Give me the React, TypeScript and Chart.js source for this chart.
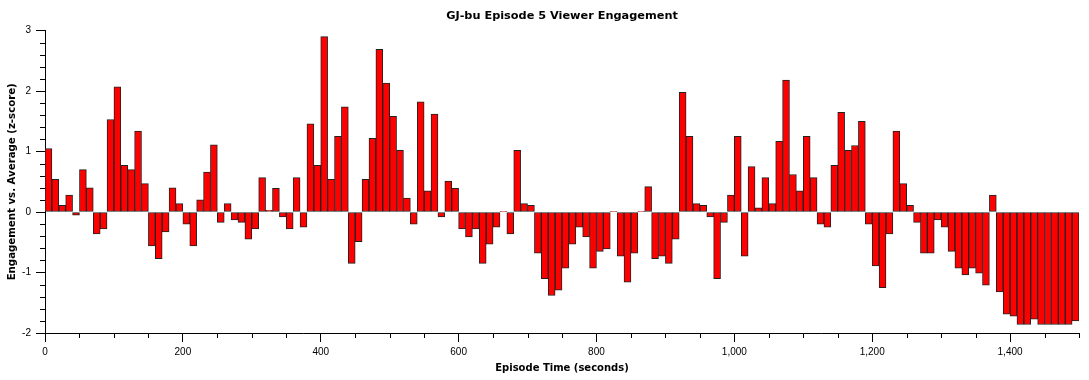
import React, { useEffect, useRef } from "react";
import { Chart, registerables } from "chart.js";

Chart.register(...registerables);

const TITLE = "GJ-bu Episode 5 Viewer Engagement";
const X_TITLE = "Episode Time (seconds)";
const Y_TITLE = "Engagement vs. Average (z-score)";

// bin start times (seconds), 10 s bins
const binStarts: number[] = Array.from({ length: 150 }, (_, i) => i * 10);

const engagement: number[] = [
  1.05, 0.54, 0.11, 0.28, -0.05, 0.7, 0.4, -0.36, -0.28, 1.53,
  2.07, 0.77, 0.7, 1.34, 0.47, -0.56, -0.77, -0.33, 0.4, 0.14,
  -0.2, -0.56, 0.2, 0.66, 1.11, -0.17, 0.14, -0.13, -0.17, -0.45,
  -0.28, 0.57, 0.03, 0.39, -0.08, -0.28, 0.57, -0.25, 1.46, 0.77,
  2.9, 0.54, 1.25, 1.74, -0.85, -0.49, 0.54, 1.22, 2.69, 2.13,
  1.58, 1.02, 0.23, -0.2, 1.82, 0.35, 1.62, -0.08, 0.51, 0.39,
  -0.28, -0.41, -0.28, -0.85, -0.53, -0.25, 0.01, -0.36, 1.02, 0.14,
  0.11, -0.68, -1.1, -1.38, -1.29, -0.93, -0.53, -0.25, -0.41, -0.93,
  -0.65, -0.61, 0.01, -0.73, -1.16, -0.68, 0.01, 0.42, -0.77, -0.73,
  -0.85, -0.45, 1.98, 1.25, 0.14, 0.11, -0.08, -1.1, -0.17, 0.28,
  1.25, -0.73, 0.75, 0.07, 0.57, 0.14, 1.17, 2.18, 0.62, 0.35,
  1.25, 0.57, -0.2, -0.25, 0.77, 1.65, 1.02, 1.1, 1.5, -0.2,
  -0.89, -1.25, -0.36, 1.34, 0.47, 0.11, -0.17, -0.68, -0.68, -0.13,
  -0.25, -0.65, -0.93, -1.04, -0.93, -1.01, -1.21, 0.28, -1.32, -1.69,
  -1.72, -1.86, -1.86, -1.77, -1.86, -1.86, -1.86, -1.86, -1.86, -1.8,
];

const X_MIN = 0;
const X_MAX = 1500;
const X_MAJOR = 200;
const X_MINOR = 50;
const Y_MIN = -2;
const Y_MAX = 3;
const Y_MAJOR = 1;
const Y_MINOR = 0.2;

const FONT = "'Liberation Sans', Arial, sans-serif";
const BOLD_FONT = "'DejaVu Sans', Verdana, sans-serif";

const minorTicks = {
  id: "minorTicks",
  afterDraw(chart: any) {
    const { ctx } = chart;
    const xs = chart.scales.x;
    const ys = chart.scales.y;
    ctx.save();
    ctx.strokeStyle = "#000";
    ctx.lineWidth = 1;
    ctx.beginPath();
    const nx = Math.round((X_MAX - X_MIN) / X_MINOR);
    for (let i = 0; i <= nx; i++) {
      const v = X_MIN + i * X_MINOR;
      if (v % X_MAJOR === 0) continue;
      const px = Math.round(xs.getPixelForValue(v)) + 0.5;
      ctx.moveTo(px, xs.top);
      ctx.lineTo(px, xs.top + 5);
    }
    const ny = Math.round((Y_MAX - Y_MIN) / Y_MINOR);
    for (let i = 0; i <= ny; i++) {
      const v = Y_MIN + i * Y_MINOR;
      if (Math.abs(v - Math.round(v / Y_MAJOR) * Y_MAJOR) < 1e-6) continue;
      const py = Math.round(ys.getPixelForValue(v)) + 0.5;
      ctx.moveTo(ys.right, py);
      ctx.lineTo(ys.right - 5, py);
    }
    ctx.stroke();
    ctx.restore();
  },
};

export default function App() {
  const ref = useRef<HTMLCanvasElement | null>(null);
  useEffect(() => {
    if (!ref.current) return;
    const data = binStarts.map((s, i) => ({ x: s + 5, y: engagement[i] }));
    const chart = new Chart(ref.current, {
      type: "bar",
      data: {
        datasets: [
          {
            data: data as any,
            backgroundColor: "#ff0000",
            borderColor: "#222",
            borderWidth: 1,
            borderSkipped: false,
            barPercentage: 1,
            categoryPercentage: 1,
          },
        ],
      },
      options: {
        responsive: false,
        animation: false,
        layout: { padding: { left: 0, right: 10, top: 0, bottom: 0 } },
        plugins: {
          legend: { display: false },
          tooltip: { enabled: false },
          title: {
            display: true,
            text: TITLE,
            fullSize: false,
            color: "#000",
            font: { family: BOLD_FONT, size: 11.3, weight: "bold" },
            padding: { top: 9, bottom: 8 },
          },
        },
        scales: {
          x: {
            type: "linear",
            min: X_MIN,
            max: X_MAX,
            offset: false,
            grid: {
              display: true,
              offset: false,
              drawOnChartArea: false,
              drawTicks: true,
              tickLength: 9,
              color: "#000",
            },
            border: { display: true, color: "#000", width: 1 },
            ticks: {
              stepSize: X_MAJOR,
              includeBounds: false,
              color: "#000",
              padding: 4,
              maxRotation: 0,
              font: { family: FONT, size: 10 },
            },
            title: {
              display: true,
              text: X_TITLE,
              color: "#000",
              font: { family: BOLD_FONT, size: 10, weight: "bold" },
              padding: { top: 0, bottom: 6 },
            },
            afterFit(scale: any) {
              scale.height = 47;
            },
          },
          y: {
            min: Y_MIN,
            max: Y_MAX,
            grid: {
              display: true,
              offset: false,
              drawOnChartArea: false,
              drawTicks: true,
              tickLength: 9,
              color: "#000",
            },
            border: { display: true, color: "#000", width: 1 },
            ticks: {
              stepSize: Y_MAJOR,
              color: "#000",
              padding: 5,
              font: { family: FONT, size: 10 },
            },
            title: {
              display: true,
              text: Y_TITLE,
              color: "#000",
              font: { family: BOLD_FONT, size: 10.2, weight: "bold" },
              padding: { top: 6, bottom: 0 },
            },
            afterFit(scale: any) {
              scale.width = 45;
            },
          },
        },
      } as any,
      plugins: [minorTicks],
    });
    return () => chart.destroy();
  }, []);
  return (
    <div style={{ position: "fixed", left: 0, top: 0, width: 1089, height: 380, background: "#fff" }}>
      <canvas ref={ref} width={1089} height={380} style={{ width: 1089, height: 380 }} />
    </div>
  );
}
